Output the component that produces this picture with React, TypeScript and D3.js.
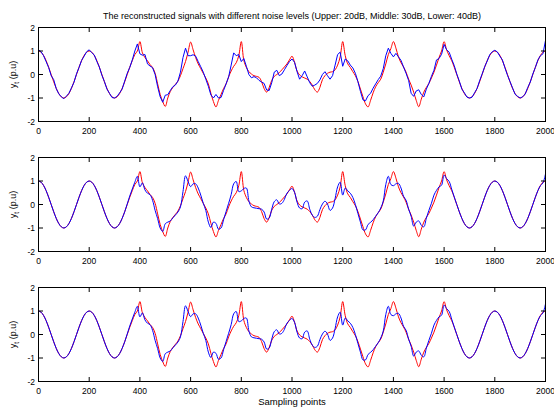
import React from 'react';
import * as d3 from 'd3';

// ---- data (one value every 10 sampling points) ----
const samplePoints = d3.range(0, 2001, 10);
const xTicks = [0, 200, 400, 600, 800, 1000, 1200, 1400, 1600, 1800, 2000];
const yTicks = [-2, -1, 0, 1, 2];
const titleText = 'The reconstructed signals with different noise levels (Upper: 20dB, Middle: 30dB, Lower: 40dB)';
const xLabelText = 'Sampling points';

// original (reference) signal, red, same in all three panels
const originalSignal = [
  1.00, 0.95, 0.81, 0.59, 0.31, 0.00, -0.31, -0.59, -0.81, -0.95,
  -1.00, -0.95, -0.81, -0.59, -0.31, 0.00, 0.31, 0.59, 0.81, 0.95,
  1.00, 0.95, 0.81, 0.59, 0.31, 0.00, -0.31, -0.59, -0.81, -0.95,
  -1.00, -0.95, -0.81, -0.59, -0.31, 0.00, 0.31, 0.59, 0.85, 1.00,
  1.40, 0.92, 0.72, 0.58, 0.42, 0.30, 0.05, -0.40, -0.85, -1.15,
  -1.36, -1.00, -0.72, -0.55, -0.42, -0.28, -0.05, 0.25, 0.55, 0.95,
  1.38, 1.05, 0.72, 0.45, 0.25, 0.05, -0.15, -0.40, -0.80, -1.15,
  -1.38, -1.10, -0.85, -0.60, -0.40, -0.10, 0.15, 0.35, 0.50, 0.80,
  1.40, 0.60, 0.30, 0.12, 0.02, -0.05, -0.08, -0.12, -0.30, -0.60,
  -0.75, -0.55, -0.25, -0.08, 0.00, 0.08, 0.20, 0.32, 0.45, 0.62,
  0.78, 0.52, 0.15, -0.02, -0.10, -0.15, -0.20, -0.30, -0.45, -0.65,
  -0.75, -0.55, -0.22, -0.05, 0.05, 0.10, 0.12, 0.20, 0.40, 0.75,
  1.40, 0.80, 0.45, 0.30, 0.12, -0.05, -0.30, -0.62, -0.95, -1.25,
  -1.38, -1.10, -0.78, -0.52, -0.35, -0.20, 0.10, 0.45, 0.85, 1.10,
  1.40, 1.12, 0.75, 0.50, 0.32, 0.10, -0.20, -0.45, -0.75, -1.10,
  -1.37, -1.05, -0.75, -0.55, -0.38, -0.15, 0.10, 0.40, 0.72, 1.00,
  1.40, 1.05, 0.80, 0.59, 0.31, 0.00, -0.31, -0.59, -0.81, -0.95,
  -1.00, -0.95, -0.81, -0.59, -0.31, 0.00, 0.31, 0.59, 0.81, 0.95,
  1.00, 0.95, 0.81, 0.59, 0.31, 0.00, -0.31, -0.59, -0.81, -0.95,
  -1.00, -0.95, -0.81, -0.59, -0.31, 0.00, 0.31, 0.59, 0.81, 0.95,
  1.00,
];

// reconstructed signal, 20 dB noise (upper panel)
const reconstructed20dB = [
  1.05, 0.97, 0.80, 0.55, 0.30, -0.05, -0.22, -0.60, -0.82, -0.95,
  -1.03, -0.92, -0.80, -0.57, -0.33, 0.03, 0.30, 0.60, 0.78, 0.97,
  1.05, 0.93, 0.83, 0.56, 0.32, -0.03, -0.30, -0.62, -0.80, -0.98,
  -1.00, -0.93, -0.78, -0.62, -0.28, 0.05, 0.30, 0.62, 1.00, 1.30,
  0.88, 0.82, 0.85, 0.45, 0.36, 0.29, 0.00, -0.52, -0.95, -1.18,
  -0.88, -0.86, -0.68, -0.52, -0.45, -0.28, 0.10, 0.72, 1.12, 0.80,
  0.80, 0.84, 0.78, 0.55, 0.33, 0.10, -0.20, -0.50, -0.87, -1.00,
  -0.85, -1.00, -0.98, -0.68, -0.40, -0.10, 0.40, 0.92, 0.80, 0.85,
  0.55, 0.68, 0.35, 0.00, -0.14, -0.09, -0.14, -0.25, -0.32, -0.38,
  -0.66, -0.68, -0.35, 0.10, 0.18, -0.05, 0.02, 0.20, 0.38, 0.55,
  0.66, 0.52, 0.12, -0.20, -0.05, 0.15, -0.10, -0.35, -0.50, -0.45,
  -0.38, -0.23, 0.00, 0.12, -0.05, -0.20, -0.05, 0.40, 0.85, 0.95,
  0.35, 0.66, 0.58, 0.40, 0.28, 0.05, -0.30, -0.72, -1.08, -1.12,
  -0.90, -0.80, -0.58, -0.40, -0.22, -0.07, 0.25, 0.80, 1.12, 0.90,
  0.75, 0.90, 0.75, 0.60, 0.32, 0.05, -0.25, -0.80, -0.93, -0.70,
  -0.65, -0.85, -0.95, -0.62, -0.38, -0.08, 0.18, 0.62, 0.68, 0.86,
  1.28, 1.05, 0.95, 0.65, 0.38, 0.02, -0.28, -0.62, -0.78, -0.96,
  -1.00, -0.97, -0.78, -0.60, -0.27, 0.02, 0.33, 0.57, 0.84, 0.97,
  1.03, 0.96, 0.78, 0.62, 0.28, -0.03, -0.30, -0.57, -0.84, -0.93,
  -1.00, -0.95, -0.83, -0.55, -0.32, 0.02, 0.30, 0.62, 0.80, 0.88,
  1.45,
];

// reconstructed signal, 30 dB noise (middle panel)
const reconstructed30dB = [
  1.00, 0.95, 0.81, 0.59, 0.31, 0.00, -0.31, -0.59, -0.81, -0.95,
  -1.00, -0.95, -0.81, -0.59, -0.31, 0.00, 0.31, 0.59, 0.81, 0.95,
  1.00, 0.95, 0.81, 0.59, 0.31, 0.00, -0.31, -0.59, -0.81, -0.95,
  -1.00, -0.95, -0.81, -0.59, -0.31, 0.02, 0.36, 0.66, 0.95, 1.20,
  0.75, 0.92, 0.62, 0.48, 0.42, 0.18, -0.25, -0.60, -1.00, -1.15,
  -0.82, -0.75, -0.70, -0.57, -0.45, -0.32, -0.10, 0.55, 1.22, 0.98,
  0.76, 0.88, 0.88, 0.70, 0.40, 0.05, -0.25, -0.75, -0.98, -0.75,
  -0.80, -1.05, -1.00, -0.65, -0.30, 0.05, 0.42, 0.88, 0.98, 0.55,
  0.58, 0.68, 0.70, 0.15, -0.10, -0.14, -0.16, -0.18, -0.20, -0.32,
  -0.62, -0.58, -0.20, 0.12, 0.20, 0.02, 0.05, 0.22, 0.48, 0.60,
  0.68, 0.52, 0.10, -0.15, -0.18, 0.10, 0.15, -0.20, -0.45, -0.55,
  -0.50, -0.22, 0.02, 0.14, 0.02, -0.25, -0.15, 0.25, 0.75, 0.95,
  0.40, 0.70, 0.58, 0.48, 0.30, 0.00, -0.38, -0.75, -1.08, -1.08,
  -0.85, -0.76, -0.65, -0.50, -0.35, -0.15, 0.15, 0.85, 1.20, 0.85,
  0.80, 0.88, 0.90, 0.70, 0.35, 0.18, -0.20, -0.50, -0.92, -0.75,
  -0.70, -0.88, -0.95, -0.58, -0.25, 0.05, 0.40, 0.60, 0.75, 0.82,
  1.25, 1.10, 0.98, 0.65, 0.32, 0.00, -0.31, -0.59, -0.81, -0.95,
  -1.00, -0.95, -0.81, -0.59, -0.31, 0.00, 0.31, 0.59, 0.81, 0.95,
  1.00, 0.95, 0.81, 0.59, 0.31, 0.00, -0.31, -0.59, -0.81, -0.95,
  -1.00, -0.95, -0.81, -0.59, -0.31, 0.00, 0.31, 0.59, 0.80, 0.92,
  1.30,
];

// reconstructed signal, 40 dB noise (lower panel) — indistinguishable from 30 dB in the picture
const reconstructed40dB = reconstructed30dB;

const panels = [
  { recon: reconstructed20dB, smooth: false },
  { recon: reconstructed30dB, smooth: true },
  { recon: reconstructed40dB, smooth: true },
];

// ---- layout ----
const W = 554;
const H = 409;
const LEFT = 38.5;
const RIGHT = 545.5;
const PANEL_TOPS = [27.5, 157.5, 287.5];
const PANEL_H = 94;
const TICK = 4.5;
const FONT = '"Liberation Sans", Arial, Helvetica, sans-serif';

function Panel({ top, recon, smooth, showXLabel }: { top: number; recon: number[]; smooth: boolean; showXLabel: boolean }) {
  const bottom = top + PANEL_H;
  const x = d3.scaleLinear().domain([0, 2000]).range([LEFT, RIGHT]);
  const y = d3.scaleLinear().domain([-2, 2]).range([bottom, top]);
  const smoothLine = d3
    .line<number>()
    .x((_, i) => x(samplePoints[i]))
    .y((d) => y(d))
    .curve(d3.curveCatmullRom.alpha(0.5));
  const rawLine = d3
    .line<number>()
    .x((_, i) => x(samplePoints[i]))
    .y((d) => y(d));
  const mid = (top + bottom) / 2;
  return (
    <g>
      <path d={smoothLine(originalSignal) || ''} fill="none" stroke="#ff0000" strokeWidth={1} />
      <path d={(smooth ? smoothLine : rawLine)(recon) || ''} fill="none" stroke="#0000ff" strokeWidth={1} />
      <rect x={LEFT} y={top} width={RIGHT - LEFT} height={PANEL_H} fill="none" stroke="#000" strokeWidth={1} />
      {xTicks.map((t) => (
        <g key={'x' + t}>
          <line x1={x(t)} x2={x(t)} y1={bottom} y2={bottom - TICK} stroke="#000" strokeWidth={1} />
          <line x1={x(t)} x2={x(t)} y1={top} y2={top + TICK} stroke="#000" strokeWidth={1} />
          <text x={x(t)} y={bottom + 12} fontSize={8.5} textAnchor="middle" fontFamily={FONT} fill="#000">
            {t}
          </text>
        </g>
      ))}
      {yTicks.map((t) => (
        <g key={'y' + t}>
          <line x1={LEFT} x2={LEFT + TICK} y1={y(t)} y2={y(t)} stroke="#000" strokeWidth={1} />
          <line x1={RIGHT} x2={RIGHT - TICK} y1={y(t)} y2={y(t)} stroke="#000" strokeWidth={1} />
          <text x={LEFT - 3.5} y={y(t) + 3} fontSize={8.5} textAnchor="end" fontFamily={FONT} fill="#000">
            {t}
          </text>
        </g>
      ))}
      <text
        transform={`translate(16,${mid}) rotate(-90)`}
        fontSize={9}
        textAnchor="middle"
        fontFamily={FONT}
        fill="#000"
      >
        y
        <tspan fontSize={6.5} dy={2.5}>t</tspan>
        <tspan dy={-2.5}> (p.u)</tspan>
      </text>
      {showXLabel && (
        <text x={(LEFT + RIGHT) / 2} y={bottom + 23} fontSize={9.5} textAnchor="middle" fontFamily={FONT} fill="#000">
          {xLabelText}
        </text>
      )}
    </g>
  );
}

export default function App() {
  return (
    <svg width={W} height={H} viewBox={`0 0 ${W} ${H}`} style={{ display: 'block', position: 'absolute', left: 0, top: 0, background: '#fff' }}>
      <rect x={0} y={0} width={W} height={H} fill="#fff" />
      <text x={(LEFT + RIGHT) / 2} y={19} fontSize={9} textAnchor="middle" fontFamily={FONT} fill="#000">
        {titleText}
      </text>
      {panels.map((p, i) => (
        <Panel key={i} top={PANEL_TOPS[i]} recon={p.recon} smooth={p.smooth} showXLabel={i === 2} />
      ))}
    </svg>
  );
}
